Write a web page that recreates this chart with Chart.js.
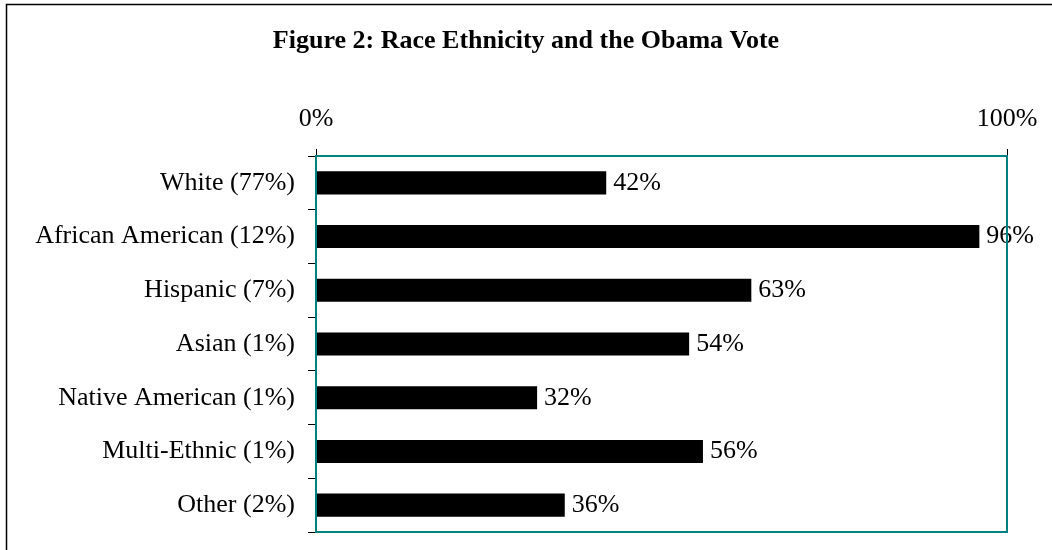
<!DOCTYPE html>
<html>
<head>
<meta charset="utf-8">
<title>Race Ethnicity and the Obama Vote</title>
<script src="https://cdn.jsdelivr.net/npm/chart.js@4.4.1/dist/chart.umd.min.js"></script>
<style>
  html, body { margin: 0; padding: 0; background: #fff; }
  #wrap { position: relative; width: 1052px; height: 550px; }
</style>
</head>
<body>
<div id="wrap"><canvas id="voteChart" width="1052" height="550"></canvas></div>
<script>
var groups = ['White (77%)', 'African American (12%)', 'Hispanic (7%)', 'Asian (1%)',
              'Native American (1%)', 'Multi-Ethnic (1%)', 'Other (2%)'];
var obamaShare = [42, 96, 63, 54, 32, 56, 36];
var axisTicks = [0, 100];

var serif = '"Liberation Serif", "Times New Roman", serif';

// value labels to the right of each bar
var barLabels = {
    id: 'barLabels',
    afterDatasetsDraw: function(chart) {
        var ctx = chart.ctx;
        var meta = chart.getDatasetMeta(0);
        ctx.save();
        ctx.font = '26px ' + serif;
        ctx.fillStyle = '#000';
        ctx.textAlign = 'left';
        ctx.textBaseline = 'middle';
        meta.data.forEach(function(bar, i) {
            ctx.fillText(obamaShare[i] + '%', bar.x + 7, bar.y);
        });
        ctx.restore();
    }
};

// teal plot box and the outer frame lines
var frames = {
    id: 'frames',
    afterDraw: function(chart) {
        var ctx = chart.ctx;
        var a = chart.chartArea;
        ctx.save();
        ctx.strokeStyle = '#008080';
        ctx.lineWidth = 2;
        ctx.strokeRect(a.left, a.top, a.right - a.left, a.bottom - a.top);

        ctx.strokeStyle = '#000';
        ctx.lineWidth = 1.5;
        ctx.beginPath();
        ctx.moveTo(6.5, 550);
        ctx.lineTo(6.5, 4.5);
        ctx.lineTo(1052, 4.5);
        ctx.stroke();
        ctx.restore();
    }
};

var ctx = document.getElementById('voteChart').getContext('2d');
var voteChart = new Chart(ctx, {
    type: 'bar',
    data: {
        labels: groups,
        datasets: [{
            data: obamaShare,
            backgroundColor: '#000',
            borderWidth: 0,
            barPercentage: 0.43,
            categoryPercentage: 1
        }]
    },
    options: {
        indexAxis: 'y',
        responsive: false,
        animation: false,
        layout: { padding: { left: 0, right: 0, top: 0, bottom: 18 } },
        plugins: {
            legend: { display: false },
            tooltip: { enabled: false },
            title: {
                display: true,
                text: 'Figure 2: Race Ethnicity and the Obama Vote',
                color: '#000',
                font: { family: serif, size: 26, weight: 'bold' },
                padding: { top: 26, bottom: 0 }
            }
        },
        scales: {
            x: {
                position: 'top',
                min: 0,
                max: 100,
                afterBuildTicks: function(scale) {
                    scale.ticks = axisTicks.map(function(v) { return { value: v }; });
                },
                afterFit: function(scale) { scale.height = 98.8; },
                border: { display: false },
                grid: { drawOnChartArea: false, drawTicks: true, tickLength: 7, color: '#000' },
                ticks: {
                    padding: 14,
                    color: '#000',
                    maxRotation: 0,
                    font: { family: serif, size: 26 },
                    callback: function(v) { return v + '%'; }
                }
            },
            y: {
                afterFit: function(scale) {
                    scale.width = 316;
                    // labels sit mid-category, so no extra room above/below is needed
                    scale.paddingTop = 0;
                    scale.paddingBottom = 0;
                },
                border: { display: false },
                grid: { drawOnChartArea: false, drawTicks: true, tickLength: 8, color: '#000', offset: true },
                ticks: {
                    padding: 13,
                    color: '#000',
                    font: { family: serif, size: 26 }
                }
            },
            // empty strip on the right so the plot box stops short of the edge
            gutter: {
                type: 'linear',
                position: 'right',
                border: { display: false },
                grid: { display: false },
                ticks: { display: false },
                afterFit: function(scale) {
                    scale.width = 45;
                    scale.paddingTop = 0;
                    scale.paddingBottom = 0;
                }
            }
        }
    },
    plugins: [barLabels, frames]
});
</script>
</body>
</html>
